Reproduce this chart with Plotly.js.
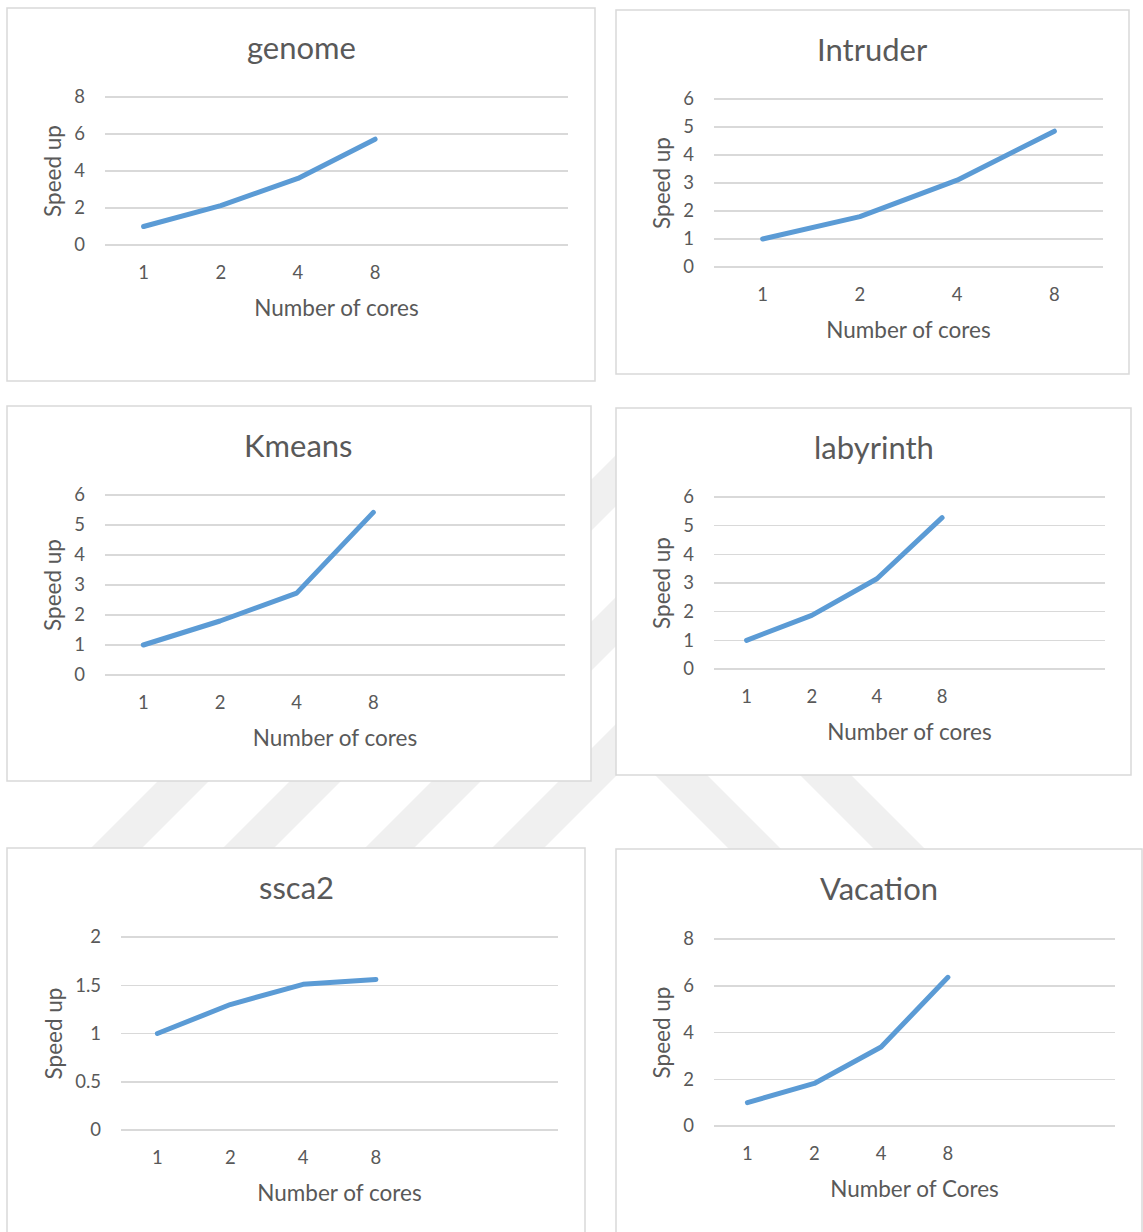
<!DOCTYPE html>
<html>
<head>
<meta charset="utf-8">
<script src="https://cdn.plot.ly/plotly-3.0.1.min.js"></script>
<style>
  html, body { margin: 0; padding: 0; background: #ffffff; }
  #chart { width: 1143px; height: 1232px; }
  #chart .scatterlayer path.js-line { stroke-linecap: round; stroke-linejoin: round; }
</style>
</head>
<body>
<div id="chart"></div>
<script>
// Speed-up measured for each STAMP benchmark on 1, 2, 4 and 8 cores
const coreCounts = ['1', '2', '4', '8'];

const genomeSpeedup    = [1, 2.13, 3.6, 5.72];
const intruderSpeedup  = [1, 1.8, 3.1, 4.85];
const kmeansSpeedup    = [1, 1.8, 2.73, 5.42];
const labyrinthSpeedup = [1, 1.87, 3.15, 5.28];
const ssca2Speedup     = [1, 1.3, 1.51, 1.56];
const vacationSpeedup  = [1, 1.82, 3.38, 6.36];

const benchmarkNames = ['genome', 'Intruder', 'Kmeans', 'labyrinth', 'ssca2', 'Vacation'];
const xTitles = ['Number of cores', 'Number of cores', 'Number of cores',
                 'Number of cores', 'Number of cores', 'Number of Cores'];
const yTitle = 'Speed up';

// Page size in px, used to turn pixel positions into paper fractions
const W = 1143, H = 1232;
const px = x => x / W;
const py = y => 1 - y / H;

// Frame of each chart card and its plotting area (px), plus y-scale settings
const panels = [
  { values: genomeSpeedup,    box: [7, 8, 595, 381],      plot: [105, 97, 568, 245],   ymax: 8, dtick: 2,   slots: 6 },
  { values: intruderSpeedup,  box: [616, 10, 1129, 374],  plot: [714, 99, 1103, 267],  ymax: 6, dtick: 1,   slots: 4 },
  { values: kmeansSpeedup,    box: [7, 406, 591, 781],    plot: [105, 495, 565, 675],  ymax: 6, dtick: 1,   slots: 6 },
  { values: labyrinthSpeedup, box: [616, 408, 1131, 775], plot: [714, 497, 1105, 669], ymax: 6, dtick: 1,   slots: 6 },
  { values: ssca2Speedup,     box: [7, 848, 585, 1245],   plot: [121, 937, 558, 1130], ymax: 2, dtick: 0.5, slots: 6 },
  { values: vacationSpeedup,  box: [616, 849, 1142, 1245],plot: [714, 939, 1115, 1126],ymax: 8, dtick: 2,   slots: 6 }
];

const FONT = 'Lato, "Open Sans", sans-serif';
const TEXT = '#595959';
const GRID = '#d9d9d9';
const LINE = '#5B9BD5';

const data = [];
const layout = {
  width: W, height: H,
  margin: { l: 0, r: 0, t: 0, b: 0 },
  paper_bgcolor: '#ffffff',
  plot_bgcolor: 'rgba(0,0,0,0)',
  showlegend: false,
  font: { family: FONT, color: TEXT },
  shapes: [],
  annotations: []
};

// Faint diagonal background stripes that show between the cards
const stripeFill = '#f0f0f0';
function pathFrom(points) {
  return 'M ' + points.map(p => px(p[0]) + ',' + py(p[1])).join(' L ') + ' Z';
}
// "/" bands: x + y between c1 and c2
[[939, 990], [1071, 1122], [1213, 1262], [1340, 1392]].forEach(([c1, c2]) => {
  const t = 430, b = 880;
  layout.shapes.push({
    type: 'path', xref: 'paper', yref: 'paper', layer: 'below',
    path: pathFrom([[c1 - t, t], [c2 - t, t], [c2 - b, b], [c1 - b, b]]),
    fillcolor: stripeFill, line: { width: 0 }
  });
});
// "\" bands: x - y between d1 and d2
[[-120, -68], [25, 76]].forEach(([d1, d2]) => {
  const t = 770, b = 880;
  layout.shapes.push({
    type: 'path', xref: 'paper', yref: 'paper', layer: 'below',
    path: pathFrom([[d1 + t, t], [d2 + t, t], [d2 + b, b], [d1 + b, b]]),
    fillcolor: stripeFill, line: { width: 0 }
  });
});

// extra px above and below each plot so the end gridlines are kept
const EDGE = 3;

panels.forEach((p, i) => {
  const n = i === 0 ? '' : String(i + 1);
  const plotH = p.plot[3] - p.plot[1];
  const pad = p.ymax * EDGE / plotH;

  // white card with a thin grey border
  layout.shapes.push({
    type: 'rect', xref: 'paper', yref: 'paper', layer: 'below',
    x0: px(p.box[0]), x1: px(p.box[2]), y0: py(p.box[3]), y1: py(p.box[1]),
    fillcolor: '#ffffff', line: { color: GRID, width: 1.5 }
  });

  // chart title
  layout.annotations.push({
    xref: 'paper', yref: 'paper',
    x: px((p.box[0] + p.box[2]) / 2), y: py(p.box[1] + 39),
    xanchor: 'center', yanchor: 'middle', showarrow: false,
    text: benchmarkNames[i],
    font: { family: FONT, size: 31, color: TEXT }
  });

  data.push({
    type: 'scatter', mode: 'lines',
    x: coreCounts, y: p.values,
    xaxis: 'x' + n, yaxis: 'y' + n,
    line: { color: LINE, width: 5, shape: 'linear' },
    hoverinfo: 'x+y'
  });

  layout['xaxis' + n] = {
    type: 'category',
    domain: [px(p.plot[0]), px(p.plot[2])],
    anchor: 'y' + n,
    range: [-0.5, p.slots - 0.5],
    showgrid: false, zeroline: false, showline: false,
    ticks: '', ticklabelstandoff: 11,
    tickfont: { family: FONT, size: 18.5, color: TEXT },
    title: { text: xTitles[i], standoff: 18, font: { family: FONT, size: 22.5, color: TEXT } },
    fixedrange: true
  };
  layout['yaxis' + n] = {
    domain: [py(p.plot[3] + EDGE), py(p.plot[1] - EDGE)],
    anchor: 'x' + n,
    range: [-pad, p.ymax + pad], dtick: p.dtick, tick0: 0,
    showgrid: true, gridcolor: GRID, gridwidth: 1.5,
    zeroline: false, showline: false,
    ticks: '', ticklabelstandoff: 19,
    tickfont: { family: FONT, size: 18.5, color: TEXT },
    title: { text: yTitle, standoff: 6, font: { family: FONT, size: 22.5, color: TEXT } },
    fixedrange: true
  };
});

Plotly.newPlot('chart', data, layout, { displayModeBar: false, staticPlot: true });
</script>
</body>
</html>
